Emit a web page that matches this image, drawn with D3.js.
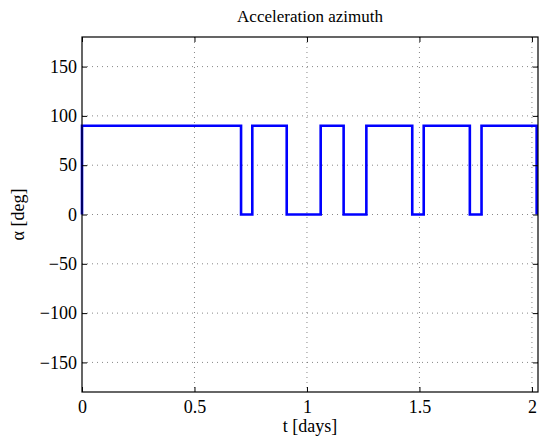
<!DOCTYPE html>
<html><head><meta charset="utf-8">
<script src="https://cdn.jsdelivr.net/npm/d3@7"></script>
<style>body{margin:0;background:#fff}svg{display:block}text{font-family:"Liberation Serif","Times New Roman",serif}</style>
</head><body>
<svg id="c" width="539" height="443"></svg>
<script>
// Data (days, degrees)
const switchTimes = [0, 0, 0.707, 0.757, 0.910, 1.061, 1.163, 1.264, 1.468, 1.519, 1.724, 1.776, 2.021];
const azimuth     = [0, 90, 0,    90,    0,     90,    0,     90,    0,     90,    0,     90,    0];
const xTicks = [0, 0.5, 1, 1.5, 2];
const xTickLabels = ["0", "0.5", "1", "1.5", "2"];
const yTicks = [-150, -100, -50, 0, 50, 100, 150];
const yTickLabels = ["\u2212150", "\u2212100", "\u221250", "0", "50", "100", "150"];
const title = "Acceleration azimuth";
const xLabel = "t [days]";
const yLabel = "\u03b1 [deg]";

const FONT = "Liberation Serif, Times New Roman, serif";
const svg = d3.select("#c");
const L = 82, R = 538, T = 37, B = 392;
const x = d3.scaleLinear().domain([0, 2.027]).range([L, R]);
const y = d3.scaleLinear().domain([-180, 180]).range([B, T]);

// grid
const g = svg.append("g");
g.selectAll(".gx").data(xTicks.filter(d => d > 0 && d < 2.027)).join("line")
  .attr("x1", d => x(d)).attr("x2", d => x(d)).attr("y1", T).attr("y2", B)
  .attr("stroke", "#555").attr("stroke-width", 0.7).attr("stroke-dasharray", "1,4");
g.selectAll(".gy").data(yTicks).join("line")
  .attr("y1", d => y(d)).attr("y2", d => y(d)).attr("x1", L).attr("x2", R)
  .attr("stroke", "#555").attr("stroke-width", 0.7).attr("stroke-dasharray", "1,4");

// line
const pts = switchTimes.map((t, i) => [t, azimuth[i]]);
svg.append("path").datum(pts)
  .attr("d", d3.line().x(d => x(d[0])).y(d => y(d[1])).curve(d3.curveStepAfter))
  .attr("fill", "none").attr("stroke", "#0000ff").attr("stroke-width", 2.6);

// axes with inward ticks on all sides
const tl = 5;
const axB = svg.append("g").attr("transform", `translate(0,${B})`)
  .call(d3.axisBottom(x).tickValues(xTicks).tickFormat((d, i) => xTickLabels[i]).tickSize(-tl).tickPadding(8));
const axT = svg.append("g").attr("transform", `translate(0,${T})`)
  .call(d3.axisTop(x).tickValues(xTicks).tickFormat("").tickSize(-tl));
const axL = svg.append("g").attr("transform", `translate(${L},0)`)
  .call(d3.axisLeft(y).tickValues(yTicks).tickFormat((d, i) => yTickLabels[i]).tickSize(-tl).tickPadding(5));
const axR = svg.append("g").attr("transform", `translate(${R},0)`)
  .call(d3.axisRight(y).tickValues(yTicks).tickFormat("").tickSize(-tl));
[axB, axT, axL, axR].forEach(a => {
  a.attr("font-family", FONT).attr("font-size", 18);
  a.select(".domain").remove();
  a.selectAll("line").attr("stroke", "#000").attr("stroke-width", 1);
  a.selectAll("text").attr("fill", "#000").attr("font-family", FONT).attr("font-size", 18);
});
svg.append("rect").attr("x", L).attr("y", T).attr("width", R - L).attr("height", B - T)
  .attr("fill", "none").attr("stroke", "#000").attr("stroke-width", 1.2);

// labels
svg.append("text").attr("x", (L + R) / 2).attr("y", 22).attr("text-anchor", "middle")
  .attr("font-family", FONT).attr("font-size", 17).text(title);
svg.append("text").attr("x", (L + R) / 2).attr("y", 432).attr("text-anchor", "middle")
  .attr("font-family", FONT).attr("font-size", 18).text(xLabel);
svg.append("text").attr("transform", `translate(24,${(T + B) / 2}) rotate(-90)`).attr("text-anchor", "middle")
  .attr("font-family", FONT).attr("font-size", 18).text(yLabel);
</script>
</body></html>
